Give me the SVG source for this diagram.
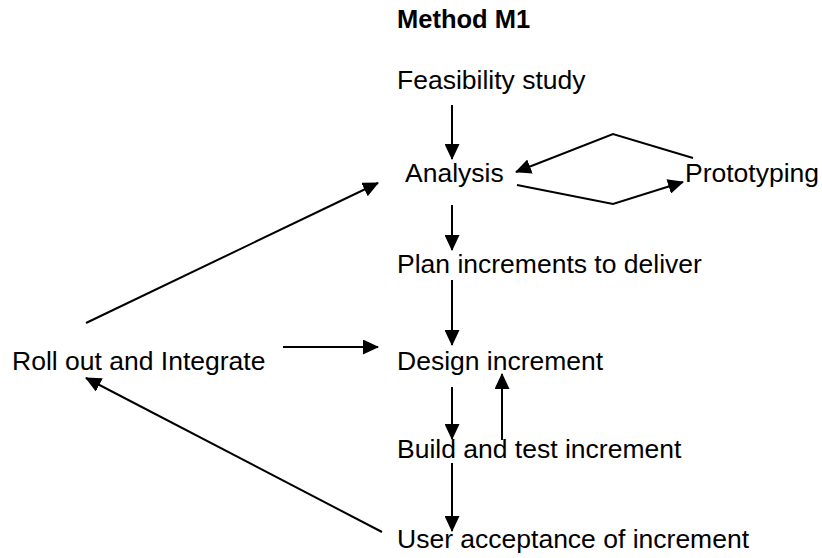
<svg xmlns="http://www.w3.org/2000/svg" width="822" height="558" viewBox="0 0 822 558">
  <style>
    .lbl { font-family: "Liberation Sans", Arial, sans-serif; font-size: 26.5px; fill: #000; }
    .title { font-family: "Liberation Sans", Arial, sans-serif; font-size: 25.5px; font-weight: bold; fill: #000; }
    .edge { fill: none; stroke: #000; stroke-width: 2; }
  </style>
  <defs>
    <marker id="head" markerUnits="userSpaceOnUse" viewBox="0 0 16 15" markerWidth="16" markerHeight="15" refX="15" refY="7.5" orient="auto">
      <path d="M0,0 L16,7.5 L0,15 z" fill="#000"/>
    </marker>
  </defs>
  <rect width="822" height="558" fill="#fff"/>

  <text class="title" x="397" y="28">Method M1</text>

  <g id="feasibility"><text class="lbl" x="397" y="89">Feasibility study</text></g>
  <g id="analysis"><text class="lbl" x="405" y="182">Analysis</text></g>
  <g id="prototyping"><text class="lbl" x="685" y="182">Prototyping</text></g>
  <g id="plan"><text class="lbl" x="397" y="273">Plan increments to deliver</text></g>
  <g id="rollout"><text class="lbl" x="12" y="370">Roll out and Integrate</text></g>
  <g id="design"><text class="lbl" x="397" y="370">Design increment</text></g>
  <g id="build"><text class="lbl" x="397" y="458">Build and test increment</text></g>
  <g id="acceptance"><text class="lbl" x="397" y="548">User acceptance of increment</text></g>

  <g id="connectors">
    <line class="edge" x1="452" y1="105" x2="452" y2="159" marker-end="url(#head)"/>
    <line class="edge" x1="452" y1="205" x2="452" y2="250" marker-end="url(#head)"/>
    <line class="edge" x1="452" y1="280" x2="452" y2="345" marker-end="url(#head)"/>
    <line class="edge" x1="452" y1="387" x2="452" y2="439" marker-end="url(#head)"/>
    <line class="edge" x1="502" y1="440" x2="502" y2="374" marker-end="url(#head)"/>
    <line class="edge" x1="452" y1="463" x2="452" y2="531" marker-end="url(#head)"/>
    <polyline class="edge" points="693,158 613,134 516,172" marker-end="url(#head)"/>
    <polyline class="edge" points="517,185 613,204 683,182" marker-end="url(#head)"/>
    <line class="edge" x1="86" y1="323" x2="378" y2="183" marker-end="url(#head)"/>
    <line class="edge" x1="283" y1="347" x2="378" y2="347" marker-end="url(#head)"/>
    <line class="edge" x1="382" y1="532" x2="86" y2="378" marker-end="url(#head)"/>
  </g>
</svg>
